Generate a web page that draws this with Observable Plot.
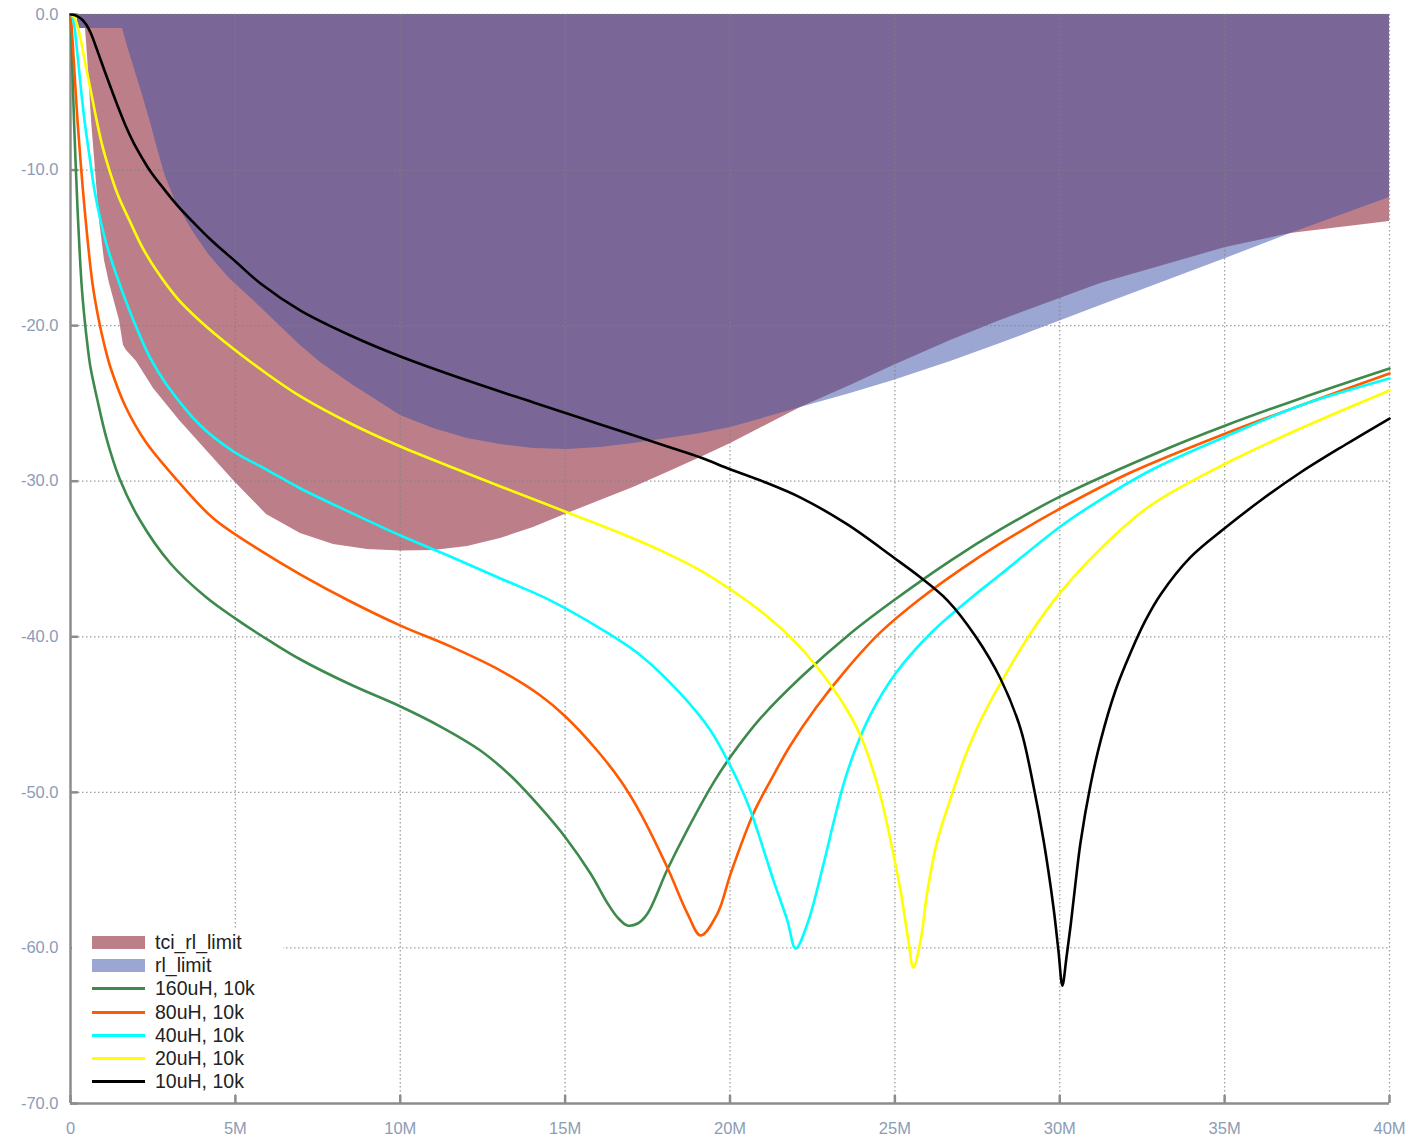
<!DOCTYPE html>
<html>
<head>
<meta charset="utf-8">
<script src="https://cdn.jsdelivr.net/npm/d3@7"></script>
<script src="https://cdn.jsdelivr.net/npm/@observablehq/plot@0.6"></script>
<style>
  body { margin: 0; background: #fff; }
  #wrap { position: relative; width: 1408px; height: 1138px; }
  #legend { position: absolute; left: 72px; top: 930px; width: 211px; height: 163px; background: #fff;
            font-family: "Liberation Sans", Arial, sans-serif; font-size: 19.5px; color: #222; }
  .row { position: absolute; left: 0; height: 23px; width: 211px; }
  .sw { position: absolute; left: 20px; width: 53px; }
  .lab { position: absolute; left: 83px; top: 0; line-height: 23px; white-space: nowrap; }
</style>
</head>
<body>
<div id="wrap"></div>
<script>
// ---------------- data (x in MHz, y in dB) ----------------
const xTicks = [0, 5, 10, 15, 20, 25, 30, 35, 40];
const xTickLabels = ["0", "5M", "10M", "15M", "20M", "25M", "30M", "35M", "40M"];
const yTicks = [-70, -60, -50, -40, -30, -20, -10, 0];
const yTickLabels = ["-70.0", "-60.0", "-50.0", "-40.0", "-30.0", "-20.0", "-10.0", "0.0"];

const seriesNames = ["tci_rl_limit", "rl_limit", "160uH, 10k", "80uH, 10k", "40uH, 10k", "20uH, 10k", "10uH, 10k"];
const seriesColors = ["#790015", "#374fa5", "#3d8a4c", "#ff5a00", "#00ffff", "#ffff00", "#000000"];

const tciLimitX = [0.212, 0.455, 0.546, 0.637, 0.758, 0.879, 1.031, 1.183, 1.486, 1.607, 1.698, 2.002, 2.517, 3.306, 4.124, 4.943, 5.944, 6.975, 7.976, 9.007, 10.008, 11.01, 12.04, 13.04, 14.04, 15.07, 16.07, 17.07, 18.10, 19.11, 20.02, 21.08, 22.14, 23.65, 24.96, 26.69, 28.20, 31.24, 35.03, 37.00, 40];
const tciLimitY = [-0.90, -0.90, -3.60, -6.81, -10.03, -13.24, -15.81, -17.29, -19.67, -21.28, -21.60, -22.31, -24.04, -26.10, -28.03, -29.95, -32.14, -33.36, -34.07, -34.39, -34.49, -34.45, -34.20, -33.68, -32.98, -32.08, -31.24, -30.40, -29.44, -28.48, -27.58, -26.42, -25.26, -23.85, -22.56, -20.95, -19.67, -17.29, -14.98, -14.08, -13.31];

const rlLimitX = [0.212, 1.577, 1.729, 2.123, 2.426, 2.669, 2.881, 3.215, 3.730, 4.215, 4.822, 5.550, 6.369, 6.975, 7.582, 8.491, 10.008, 11.01, 12.04, 13.04, 14.04, 15.07, 16.07, 17.07, 18.10, 19.11, 20.02, 21.08, 22.14, 23.65, 24.96, 26.69, 28.20, 31.24, 35.03, 37.00, 40];
const rlLimitY = [-0.90, -0.90, -2.06, -4.76, -6.94, -8.87, -10.41, -12.15, -14.01, -15.49, -16.97, -18.38, -20.06, -21.28, -22.37, -23.72, -25.78, -26.61, -27.25, -27.64, -27.90, -27.96, -27.83, -27.58, -27.25, -26.93, -26.55, -25.91, -25.26, -24.36, -23.53, -22.31, -21.15, -18.71, -15.68, -14.08, -11.76];

const l160X = [0, 0.015, 0.030, 0.053, 0.076, 0.106, 0.152, 0.227, 0.334, 0.425, 0.516, 0.607, 0.819, 1.092, 1.486, 2.093, 3.033, 4.124, 5.004, 6.065, 6.975, 8.491, 10.008, 11.22, 12.43, 13.34, 14.25, 15.01, 15.77, 16.29, 16.59, 16.89, 17.20, 17.50, 18.10, 18.71, 19.50, 20.02, 20.92, 22.14, 23.65, 24.96, 26.69, 28.20, 30.02, 33.27, 35.03, 37.30, 40];
const l160Y = [0, -0.71, -1.61, -3.21, -4.82, -6.81, -9.38, -13.11, -17.29, -19.54, -21.28, -22.69, -24.81, -27.25, -29.83, -32.46, -35.29, -37.48, -38.83, -40.30, -41.46, -43.07, -44.48, -45.77, -47.31, -48.92, -50.97, -52.90, -55.22, -57.14, -58.04, -58.56, -58.43, -57.79, -54.96, -52.39, -49.37, -47.70, -45.25, -42.62, -39.79, -37.67, -35.10, -33.10, -30.98, -27.90, -26.42, -24.68, -22.76];

const l80X = [0, 0.030, 0.061, 0.106, 0.152, 0.212, 0.303, 0.455, 0.667, 0.849, 1.031, 1.213, 1.668, 2.274, 3.215, 4.337, 5.853, 6.975, 8.491, 10.008, 11.52, 13.04, 14.25, 15.01, 15.92, 16.68, 17.29, 18.10, 18.71, 19.11, 19.62, 20.02, 20.71, 21.23, 21.83, 22.59, 23.50, 24.56, 25.78, 26.99, 28.20, 30.02, 32.15, 35.03, 37.30, 40];
const l80Y = [0, -0.71, -1.61, -3.21, -4.82, -6.81, -9.38, -13.11, -17.29, -19.54, -21.28, -22.69, -25.20, -27.45, -29.89, -32.40, -34.58, -36.00, -37.73, -39.28, -40.62, -42.17, -43.77, -45.12, -47.18, -49.24, -51.36, -54.83, -57.79, -59.20, -57.79, -55.22, -51.36, -49.24, -46.99, -44.61, -42.17, -39.72, -37.54, -35.68, -34.00, -31.75, -29.44, -26.93, -25.13, -23.08];

const l40X = [0, 0.061, 0.121, 0.182, 0.243, 0.303, 0.425, 0.607, 0.728, 0.879, 1.061, 1.365, 1.911, 2.426, 2.911, 3.942, 4.943, 5.944, 6.975, 8.491, 10.008, 11.52, 13.04, 14.56, 16.07, 17.29, 18.50, 19.41, 20.23, 20.62, 21.32, 21.74, 21.99, 22.35, 22.84, 23.14, 23.44, 23.81, 24.26, 25.02, 26.08, 27.29, 28.20, 30.02, 31.24, 32.75, 35.03, 37.30, 40];
const l40Y = [0, -0.19, -0.84, -1.99, -3.21, -4.50, -6.81, -9.58, -11.31, -12.92, -14.53, -16.58, -19.67, -22.11, -23.78, -26.42, -28.09, -29.25, -30.47, -32.01, -33.49, -34.84, -36.25, -37.67, -39.47, -41.20, -43.65, -46.02, -49.24, -51.17, -55.67, -58.24, -60.04, -58.43, -54.57, -51.94, -49.50, -47.18, -45.00, -42.36, -39.79, -37.54, -36.00, -32.91, -31.18, -29.31, -27.13, -25.13, -23.40];

const l20X = [0, 0.091, 0.182, 0.303, 0.455, 0.667, 0.788, 0.970, 1.183, 1.456, 1.789, 2.183, 2.608, 3.245, 3.912, 4.549, 5.125, 5.944, 6.975, 8.491, 10.008, 12.04, 13.04, 15.07, 17.07, 18.10, 19.11, 20.02, 21.02, 22.02, 23.02, 23.65, 24.02, 24.32, 24.56, 24.87, 25.17, 25.41, 25.56, 25.78, 25.99, 26.29, 26.69, 27.14, 27.60, 28.20, 29.11, 30.02, 31.24, 32.75, 35.03, 37.30, 40];
const l20Y = [0, -0.10, -0.51, -1.54, -3.21, -5.46, -6.75, -8.48, -10.03, -11.70, -13.24, -14.98, -16.46, -18.26, -19.67, -20.83, -21.79, -23.08, -24.55, -26.29, -27.77, -29.50, -30.34, -32.01, -33.68, -34.65, -35.74, -36.96, -38.50, -40.43, -43.00, -45.06, -46.67, -48.47, -50.20, -53.09, -56.31, -59.52, -61.26, -59.52, -56.31, -53.09, -50.40, -47.63, -45.38, -43.00, -39.79, -37.15, -34.33, -31.56, -28.86, -26.61, -24.17];

const l10X = [0, 0.121, 0.243, 0.364, 0.485, 0.607, 0.758, 0.910, 1.152, 1.425, 1.668, 1.911, 2.183, 2.426, 2.820, 3.245, 3.730, 4.246, 5.004, 5.762, 6.975, 8.491, 10.008, 12.04, 14.04, 16.07, 18.10, 19.11, 20.02, 21.08, 22.14, 23.56, 24.96, 25.78, 26.60, 27.45, 28.20, 28.81, 29.20, 29.51, 29.81, 29.96, 30.08, 30.20, 30.33, 30.48, 30.63, 30.93, 31.24, 31.69, 32.15, 32.60, 33.06, 33.96, 35.03, 36.09, 37.30, 38.67, 40];
const l10Y = [0, -0.03, -0.16, -0.35, -0.67, -1.16, -1.99, -2.89, -4.31, -5.85, -7.13, -8.23, -9.26, -10.09, -11.18, -12.28, -13.37, -14.46, -15.88, -17.29, -19.03, -20.63, -21.98, -23.53, -24.94, -26.35, -27.77, -28.48, -29.25, -30.08, -31.05, -32.78, -34.90, -36.19, -37.67, -39.98, -42.68, -45.90, -49.56, -53.10, -57.40, -60.17, -62.42, -60.68, -58.56, -55.79, -53.22, -49.56, -46.67, -43.45, -41.01, -38.95, -37.28, -34.90, -32.98, -31.24, -29.44, -27.64, -25.97];

// ---------------- build tables ----------------
const zip = (xs, ys) => xs.map((x, i) => ({x, y: ys[i]}));
const tciData = zip(tciLimitX, tciLimitY);
const rlData = zip(rlLimitX, rlLimitY);
const lineData = [
  zip(l160X, l160Y), zip(l80X, l80Y), zip(l40X, l40Y), zip(l20X, l20Y), zip(l10X, l10Y)
];

const W = 1408, H = 1138, mL = 70, mR = 19, mT = 14, mB = 35;
const innerW = W - mL - mR, innerH = H - mT - mB;
const axisColor = "#8c8c8c";
const labelColor = "#8d9cb6";
const xLab = new Map(xTicks.map((t, i) => [t, xTickLabels[i]]));
const yLab = new Map(yTicks.map((t, i) => [t, yTickLabels[i]]));

const marks = [
  Plot.areaY(tciData, {x: "x", y1: () => 0, y2: "y", fill: seriesColors[0], fillOpacity: 0.5}),
  Plot.areaY(rlData, {x: "x", y1: () => 0, y2: "y", fill: seriesColors[1], fillOpacity: 0.5}),
  Plot.gridX(xTicks.filter(t => t > 0), {stroke: "#7f7f7f", strokeOpacity: 0.75, strokeWidth: 1.3, strokeDasharray: "1.5,2.5"}),
  Plot.gridY(yTicks.filter(t => t > -70), {stroke: "#7f7f7f", strokeOpacity: 0.75, strokeWidth: 1.3, strokeDasharray: "1.5,2.5"}),
  Plot.tickX(xTicks, {x: d => d, insetTop: innerH - 8, stroke: axisColor, strokeWidth: 2.5}),
  Plot.tickY(yTicks, {y: d => d, insetRight: innerW - 8, stroke: axisColor, strokeWidth: 2.5}),
  Plot.ruleX([0], {stroke: axisColor, strokeWidth: 2.5}),
  Plot.ruleY([-70], {stroke: axisColor, strokeWidth: 2.5}),
  Plot.axisX(xTicks, {label: null, tickSize: 0, tickPadding: 19, tickFormat: d => xLab.get(d), fill: labelColor, fontSize: 16.5}),
  Plot.axisY(yTicks, {label: null, tickSize: 0, tickPadding: 12, tickFormat: d => yLab.get(d), fill: labelColor, fontSize: 16.5})
];
lineData.forEach((data, i) => {
  marks.push(Plot.line(data, {x: "x", y: "y", stroke: seriesColors[i + 2], strokeWidth: 2.6, curve: "catmull-rom"}));
});

const chart = Plot.plot({
  width: W, height: H,
  marginLeft: mL, marginRight: mR, marginTop: mT, marginBottom: mB,
  x: {domain: [0, 40], label: null},
  y: {domain: [-70, 0], label: null},
  style: {background: "#fff", fontFamily: "'Liberation Sans', Arial, sans-serif"},
  marks
});
const wrap = document.getElementById("wrap");
wrap.appendChild(chart);

// ---------------- legend ----------------
const legend = document.createElement("div");
legend.id = "legend";
seriesNames.forEach((name, i) => {
  const row = document.createElement("div");
  row.className = "row";
  row.style.top = (1 + i * 23.2) + "px";
  const sw = document.createElement("div");
  sw.className = "sw";
  if (i < 2) {
    sw.style.top = "5px"; sw.style.height = "13px";
    sw.style.background = seriesColors[i]; sw.style.opacity = 0.5;
  } else {
    sw.style.top = "10px"; sw.style.height = "3px";
    sw.style.background = seriesColors[i];
  }
  const lab = document.createElement("div");
  lab.className = "lab";
  lab.textContent = name;
  row.appendChild(sw); row.appendChild(lab);
  legend.appendChild(row);
});
wrap.appendChild(legend);
</script>
</body>
</html>
